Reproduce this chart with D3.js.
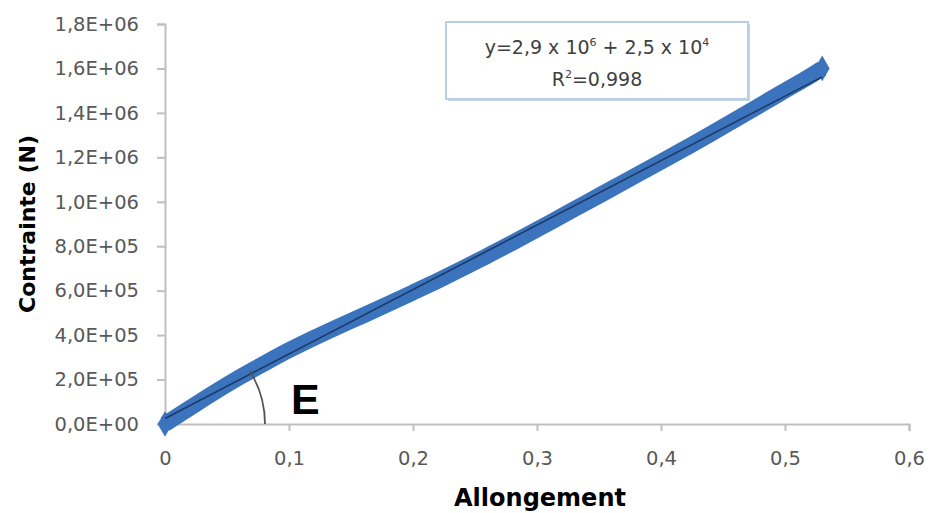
<!DOCTYPE html>
<html>
<head>
<meta charset="utf-8">
<script src="https://cdn.jsdelivr.net/npm/d3@7/dist/d3.min.js"></script>
<style>
  html, body { margin: 0; padding: 0; background: #ffffff; }
  svg { display: block; }
</style>
</head>
<body>
<svg id="chart" width="933" height="513"></svg>
<script>
// ---- Data ----
const allongement = [0, 0.02, 0.04, 0.06, 0.08, 0.10, 0.12, 0.14, 0.16, 0.18, 0.20, 0.22, 0.24, 0.26, 0.28, 0.30, 0.32, 0.34, 0.36, 0.38, 0.40, 0.42, 0.44, 0.46, 0.48, 0.50, 0.52, 0.53];
const contrainte = [0, 0.72e5, 1.43e5, 2.10e5, 2.72e5, 3.32e5, 3.87e5, 4.39e5, 4.89e5, 5.40e5, 5.92e5, 6.45e5, 7.00e5, 7.57e5, 8.15e5, 8.75e5, 9.36e5, 9.97e5, 10.58e5, 11.19e5, 11.8e5, 12.42e5, 13.05e5, 13.7e5, 14.35e5, 15.0e5, 15.65e5, 16.0e5];
const xTicks = [0, 0.1, 0.2, 0.3, 0.4, 0.5, 0.6];
const xTickLabels = ["0", "0,1", "0,2", "0,3", "0,4", "0,5", "0,6"];
const yTicks = [0, 2e5, 4e5, 6e5, 8e5, 10e5, 12e5, 14e5, 16e5, 18e5];
const yTickLabels = ["0,0E+00", "2,0E+05", "4,0E+05", "6,0E+05", "8,0E+05", "1,0E+06", "1,2E+06", "1,4E+06", "1,6E+06", "1,8E+06"];
const trendSlope = 2.9e6;
const trendIntercept = 2.5e4;
const xTitle = "Allongement";
const yTitle = "Contrainte (N)";
const annotation = "E";

// ---- Layout ----
const svg = d3.select("#chart");
const x = d3.scaleLinear().domain([0, 0.6]).range([165, 909]);
const y = d3.scaleLinear().domain([0, 1.8e6]).range([424, 24]);
const tickFont = "DejaVu Sans, sans-serif";
const grey = "#595959";
const axisCol = "#bfbfbf";

// Y axis
const yAxis = d3.axisLeft(y).tickValues(yTicks).tickSize(8).tickPadding(18)
  .tickFormat((d, i) => yTickLabels[i]);
const gy = svg.append("g").attr("transform", `translate(${x(0)},0)`).call(yAxis);
gy.select(".domain").attr("stroke", axisCol).attr("stroke-width", 2);
gy.selectAll(".tick line").attr("stroke", axisCol).attr("stroke-width", 2);
gy.selectAll(".tick text").attr("fill", grey).attr("font-family", tickFont).attr("font-size", 19.5);

// X axis
const xAxis = d3.axisBottom(x).tickValues(xTicks).tickSize(7).tickPadding(20)
  .tickFormat((d, i) => xTickLabels[i]);
const gx = svg.append("g").attr("transform", `translate(0,${y(0)})`).call(xAxis);
gx.select(".domain").attr("stroke", axisCol).attr("stroke-width", 2);
gx.selectAll(".tick line").attr("stroke", axisCol).attr("stroke-width", 2);
gx.selectAll(".tick text").attr("fill", grey).attr("font-family", tickFont).attr("font-size", 19.5);

// Axis titles
svg.append("text").text(xTitle)
  .attr("x", 540).attr("y", 506).attr("text-anchor", "middle")
  .attr("font-family", "DejaVu Sans, sans-serif").attr("font-weight", "bold")
  .attr("font-size", 24).attr("fill", "#000");
svg.append("text").text(yTitle)
  .attr("transform", "translate(27,224) rotate(-90)")
  .attr("text-anchor", "middle").attr("dominant-baseline", "central")
  .attr("font-family", "DejaVu Sans, sans-serif").attr("font-weight", "bold")
  .attr("font-size", 22).attr("fill", "#000");

// Data band (dense markers merge into a band)
const pts = allongement.map((v, i) => [v, contrainte[i]]);
const blue = "#3b73bd";
svg.append("path")
  .datum(pts)
  .attr("d", d3.line().x(d => x(d[0])).y(d => y(d[1])).curve(d3.curveMonotoneX))
  .attr("fill", "none").attr("stroke", blue).attr("stroke-width", 16)
  .attr("stroke-linejoin", "round").attr("stroke-linecap", "butt");
const ends = [pts[0], pts[pts.length - 1]];
svg.append("g").selectAll("path").data(ends).join("path")
  .attr("transform", d => `translate(${x(d[0])},${y(d[1])})`)
  .attr("d", d3.symbol().type(d3.symbolDiamond).size(190))
  .attr("fill", blue);

// Linear trendline
const xMax = d3.max(allongement);
svg.append("line")
  .attr("x1", x(0)).attr("y1", y(trendIntercept))
  .attr("x2", x(xMax)).attr("y2", y(trendSlope * xMax + trendIntercept))
  .attr("stroke", "#1d3a66").attr("stroke-width", 1.6);

// Angle arc (E)
const ox = x(0), oy = y(0);
const r = 100;
const p = pts[3];
const ang = Math.atan2(oy - y(p[1]), x(p[0]) - ox);
const arc = d3.path();
arc.moveTo(ox + r * Math.cos(ang), oy - r * Math.sin(ang));
arc.arc(ox, oy, r, -ang, 0, false);
svg.append("path").attr("d", arc.toString())
  .attr("fill", "none").attr("stroke", "#555").attr("stroke-width", 1.8);
svg.append("text").text(annotation)
  .attr("x", 291).attr("y", 414)
  .attr("font-family", "Liberation Sans, Arial, sans-serif").attr("font-weight", "bold")
  .attr("font-size", 43).attr("fill", "#000");

// Equation box
svg.append("rect").attr("x", 448).attr("y", 24).attr("width", 302).attr("height", 77)
  .attr("fill", "#c9d6e3");
svg.append("rect").attr("x", 446).attr("y", 22).attr("width", 302).attr("height", 77)
  .attr("fill", "#fff").attr("stroke", "#b8cde6").attr("stroke-width", 2);
const eq = svg.append("text").attr("x", 597).attr("y", 54).attr("text-anchor", "middle")
  .attr("font-family", "DejaVu Sans, sans-serif").attr("font-size", 19).attr("fill", "#404040");
eq.append("tspan").text("y=2,9 x 10");
eq.append("tspan").text("6").attr("font-size", 11).attr("dy", -8);
eq.append("tspan").text(" + 2,5 x 10").attr("dy", 8);
eq.append("tspan").text("4").attr("font-size", 11).attr("dy", -8);
const r2 = svg.append("text").attr("x", 597).attr("y", 86).attr("text-anchor", "middle")
  .attr("font-family", "DejaVu Sans, sans-serif").attr("font-size", 19).attr("fill", "#404040");
r2.append("tspan").text("R");
r2.append("tspan").text("2").attr("font-size", 11).attr("dy", -8);
r2.append("tspan").text("=0,998").attr("dy", 8);
</script>
</body>
</html>
